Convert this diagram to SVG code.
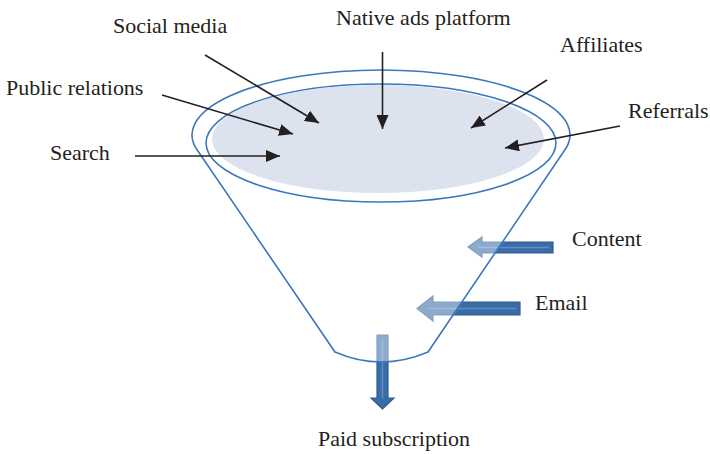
<svg xmlns="http://www.w3.org/2000/svg" width="710" height="454" viewBox="0 0 710 454">
<defs>
<style>
.lbl{font-family:"Liberation Serif","Times New Roman",serif;font-size:20px;fill:#231f20}
.ptr{stroke:#231f20;stroke-width:1.6;fill:none}
.fun{stroke:#3b78ba;stroke-width:1.6}
.blk{fill:#3a6da6;stroke:#2c5b8e;stroke-width:1.2}
.hl{stroke:#5c8dc6;stroke-width:1.5;fill:none}
</style>
<marker id="ah" markerUnits="userSpaceOnUse" markerWidth="14" markerHeight="12" refX="14" refY="6" orient="auto">
<path d="M0,0 L14,6 L0,12 Z" fill="#231f20"/>
</marker>
</defs>
<g id="flow-arrows">
<g id="arrow-content">
<path class="blk" d="M553,242 L482,242 L482,237 L468,247 L482,257 L482,253 L553,253 Z"/>
<path class="hl" d="M478,247.5 L549,247.5"/>
</g>
<g id="arrow-email">
<path class="blk" d="M520,302 L433,302 L433,296 L417,308.5 L433,321 L433,315 L520,315 Z"/>
<path class="hl" d="M428,308.5 L516,308.5"/>
</g>
<g id="arrow-paid">
<path class="blk" d="M377,335 L377,398 L371,398 L382.5,409 L394,398 L388,398 L388,335 Z"/>
<path class="hl" d="M382.5,339 L382.5,398"/>
</g>
</g>
<g id="funnel">
<path class="fun" fill="#ffffff" fill-opacity="0.42" d="M198.6,152 A189,65 0 1 1 563.4,152 L428,352 Q381,372 335,352 Z"/>
<ellipse class="fun" fill="#ffffff" cx="381" cy="143" rx="175" ry="59"/>
<ellipse cx="378" cy="139" rx="166" ry="54" fill="#dde3ee"/>
</g>
<g id="connectors">
<line class="ptr" x1="135" y1="156" x2="280" y2="156" marker-end="url(#ah)"/>
<line class="ptr" x1="162" y1="95" x2="293" y2="134" marker-end="url(#ah)"/>
<line class="ptr" x1="205" y1="55" x2="319" y2="123" marker-end="url(#ah)"/>
<line class="ptr" x1="382.5" y1="52" x2="382.5" y2="129" marker-end="url(#ah)"/>
<line class="ptr" x1="547" y1="80" x2="471" y2="128" marker-end="url(#ah)"/>
<line class="ptr" x1="620" y1="126" x2="505" y2="148" marker-end="url(#ah)"/>
</g>
<g id="node-native"><text class="lbl" transform="translate(336,25) scale(1.1,1)">Native ads platform</text></g>
<g id="node-social"><text class="lbl" transform="translate(113,33) scale(1.1,1)">Social media</text></g>
<g id="node-affiliates"><text class="lbl" transform="translate(560,52) scale(1.1,1)">Affiliates</text></g>
<g id="node-public"><text class="lbl" transform="translate(6,95) scale(1.1,1)">Public relations</text></g>
<g id="node-referrals"><text class="lbl" transform="translate(628,118) scale(1.1,1)">Referrals</text></g>
<g id="node-search"><text class="lbl" transform="translate(50,160) scale(1.1,1)">Search</text></g>
<g id="node-content"><text class="lbl" transform="translate(572,246) scale(1.1,1)">Content</text></g>
<g id="node-email"><text class="lbl" transform="translate(535,310) scale(1.1,1)">Email</text></g>
<g id="node-paid"><text class="lbl" transform="translate(318,446) scale(1.1,1)">Paid subscription</text></g>
</svg>
